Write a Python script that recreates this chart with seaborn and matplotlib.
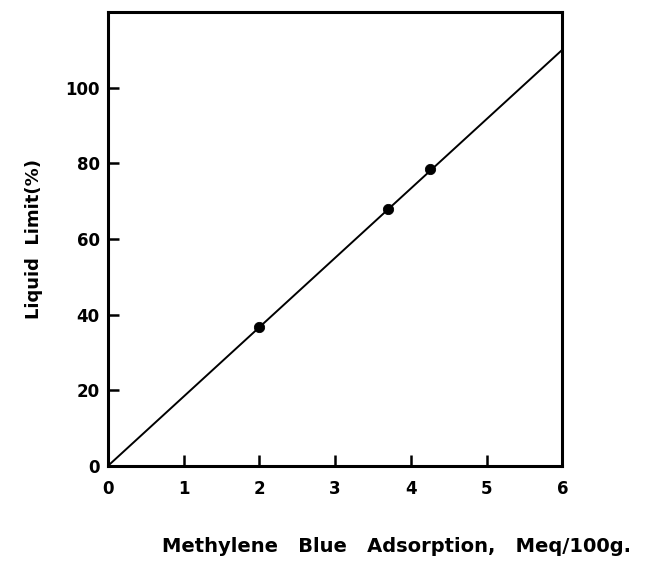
import numpy as np
import seaborn as sns
import matplotlib.pyplot as plt

# data
mba = [2.0, 3.7, 4.25]          # methylene blue adsorption, meq/100g
liquid_limit = [36.8, 67.8, 78.4]
fit_x = [0, 6]
fit_y = [0, 110]

x_ticks = [0, 1, 2, 3, 4, 5, 6]
y_ticks = [0, 20, 40, 60, 80, 100]

sns.set_style('white', {'xtick.bottom': True, 'ytick.left': True})
plt.rcParams['font.family'] = ['DejaVu Sans']

fig = plt.figure(figsize=(6.5, 5.71), dpi=100)
ax = fig.add_axes([0.166, 0.184, 0.699, 0.795])

sns.lineplot(x=fit_x, y=fit_y, ax=ax, color='black', linewidth=1.4)
sns.scatterplot(x=mba, y=liquid_limit, ax=ax, color='black', s=55, edgecolor='black', zorder=3)

ax.set_xlim(0, 6)
ax.set_ylim(0, 120)
ax.set_xticks(x_ticks)
ax.set_yticks(y_ticks)
ax.tick_params(direction='in', length=8, width=1.8, labelsize=12,
               color='black', labelcolor='black')
ax.tick_params(axis='x', pad=10)
ax.tick_params(axis='y', pad=6)
for lab in ax.get_xticklabels() + ax.get_yticklabels():
    lab.set_fontweight('bold')

for sp in ax.spines.values():
    sp.set_linewidth(2.2)
    sp.set_color('black')

ax.set_xlabel('Methylene   Blue   Adsorption,   Meq/100g.', fontsize=14, fontweight='bold',
              labelpad=28, x=0.635, color='black')
ax.set_ylabel('Liquid  Limit(%)', fontsize=13, fontweight='bold', labelpad=16, color='black')

fig.savefig('out.png', dpi=100)
